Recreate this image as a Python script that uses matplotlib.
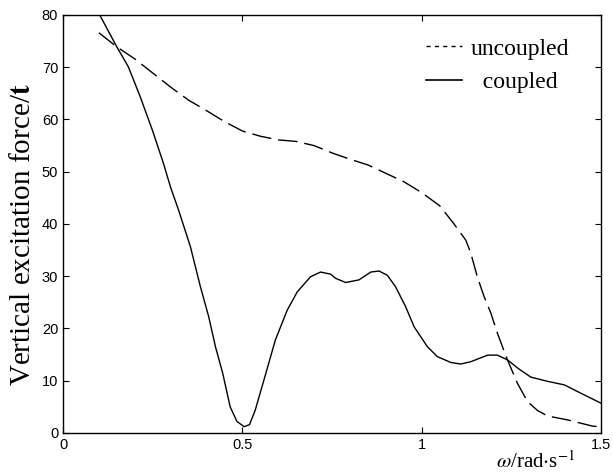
import matplotlib
matplotlib.use('Agg')
import matplotlib.pyplot as plt
from matplotlib.lines import Line2D

plt.rcParams['mathtext.fontset'] = 'stix'

# frequency (rad/s) vs vertical excitation force (t)
w_unc = [0.1, 0.15, 0.2, 0.25, 0.3, 0.35, 0.4, 0.45, 0.5, 0.55, 0.6, 0.65, 0.7,
         0.75, 0.8, 0.85, 0.9, 0.95, 1.0, 1.05, 1.088, 1.123, 1.137, 1.155, 1.174,
         1.193, 1.211, 1.239, 1.267, 1.295, 1.323, 1.351, 1.407, 1.477, 1.5]
f_unc = [76.6, 73.9, 71.6, 68.9, 66.2, 63.7, 61.7, 59.6, 57.8, 56.8, 56.1, 55.8, 55.0,
         53.6, 52.4, 51.3, 49.7, 48.1, 46.0, 43.5, 40.2, 36.9, 34.4, 29.9, 26.1,
         22.9, 19.1, 14.0, 9.5, 6.0, 4.3, 3.25, 2.5, 1.3, 1.2]

w_cpl = [0.1, 0.15, 0.182, 0.215, 0.25, 0.28, 0.3, 0.322, 0.355, 0.383, 0.406, 0.425,
         0.445, 0.466, 0.485, 0.505, 0.52, 0.536, 0.56, 0.592, 0.625, 0.653, 0.69,
         0.718, 0.746, 0.76, 0.788, 0.825, 0.858, 0.881, 0.904, 0.927, 0.955, 0.979,
         1.016, 1.044, 1.081, 1.109, 1.137, 1.184, 1.211, 1.239, 1.27, 1.304, 1.35,
         1.398, 1.444, 1.5]
f_cpl = [80.3, 73.9, 70.1, 64.4, 57.8, 51.6, 47.0, 42.7, 35.7, 28.0, 22.3, 16.5,
         11.5, 5.0, 2.2, 1.2, 1.6, 4.4, 10.1, 17.8, 23.5, 27.0, 29.9,
         30.8, 30.4, 29.6, 28.8, 29.3, 30.8, 31.0, 30.2, 28.0, 24.2, 20.3,
         16.5, 14.6, 13.5, 13.2, 13.65, 14.9, 14.9, 14.0, 12.3, 10.7, 9.9,
         9.2, 7.6, 5.7]

xticks = [0, 0.5, 1, 1.5]
xticklabels = ['0', '0.5', '1', '1.5']
yticks = [0, 10, 20, 30, 40, 50, 60, 70, 80]

fig = plt.figure(figsize=(6.13, 4.73), dpi=100)
ax = fig.add_axes([0.1028, 0.0846, 0.8777, 0.8837])

ax.plot(w_unc, f_unc, color='black', lw=1.0, dashes=(14, 5))
ax.plot(w_cpl, f_cpl, color='black', lw=1.0)

ax.set_xlim(0, 1.5)
ax.set_ylim(0, 80)
ax.set_xticks(xticks)
ax.set_xticklabels(xticklabels)
ax.set_yticks(yticks)
ax.tick_params(direction='in', top=True, right=True, length=4, width=0.8,
               labelsize=10.5)
for lab in ax.get_xticklabels() + ax.get_yticklabels():
    lab.set_family('Liberation Sans')
for s in ax.spines.values():
    s.set_linewidth(1.0)

ax.set_ylabel('Vertical excitation force/$\\mathbf{t}$', family='Liberation Serif',
              fontsize=21)
ax.yaxis.set_label_coords(-0.05, 0.475)
ax.text(0.879, -0.069, '$\\omega$/rad$\\cdot$s$^{-1}$', transform=ax.transAxes,
        ha='center', va='center', family='Liberation Serif', fontsize=15)

handles = [Line2D([], [], color='black', lw=1.0, dashes=(3, 3)),
           Line2D([], [], color='black', lw=1.2)]
leg = ax.legend(handles, ['uncoupled', '  coupled'], loc='upper left',
                frameon=False, handlelength=1.5, handletextpad=0.4,
                borderpad=0, borderaxespad=0,
                bbox_to_anchor=(0.675, 0.945),
                prop={'family': 'Liberation Serif', 'size': 17})

fig.savefig('out.png', dpi=100)
